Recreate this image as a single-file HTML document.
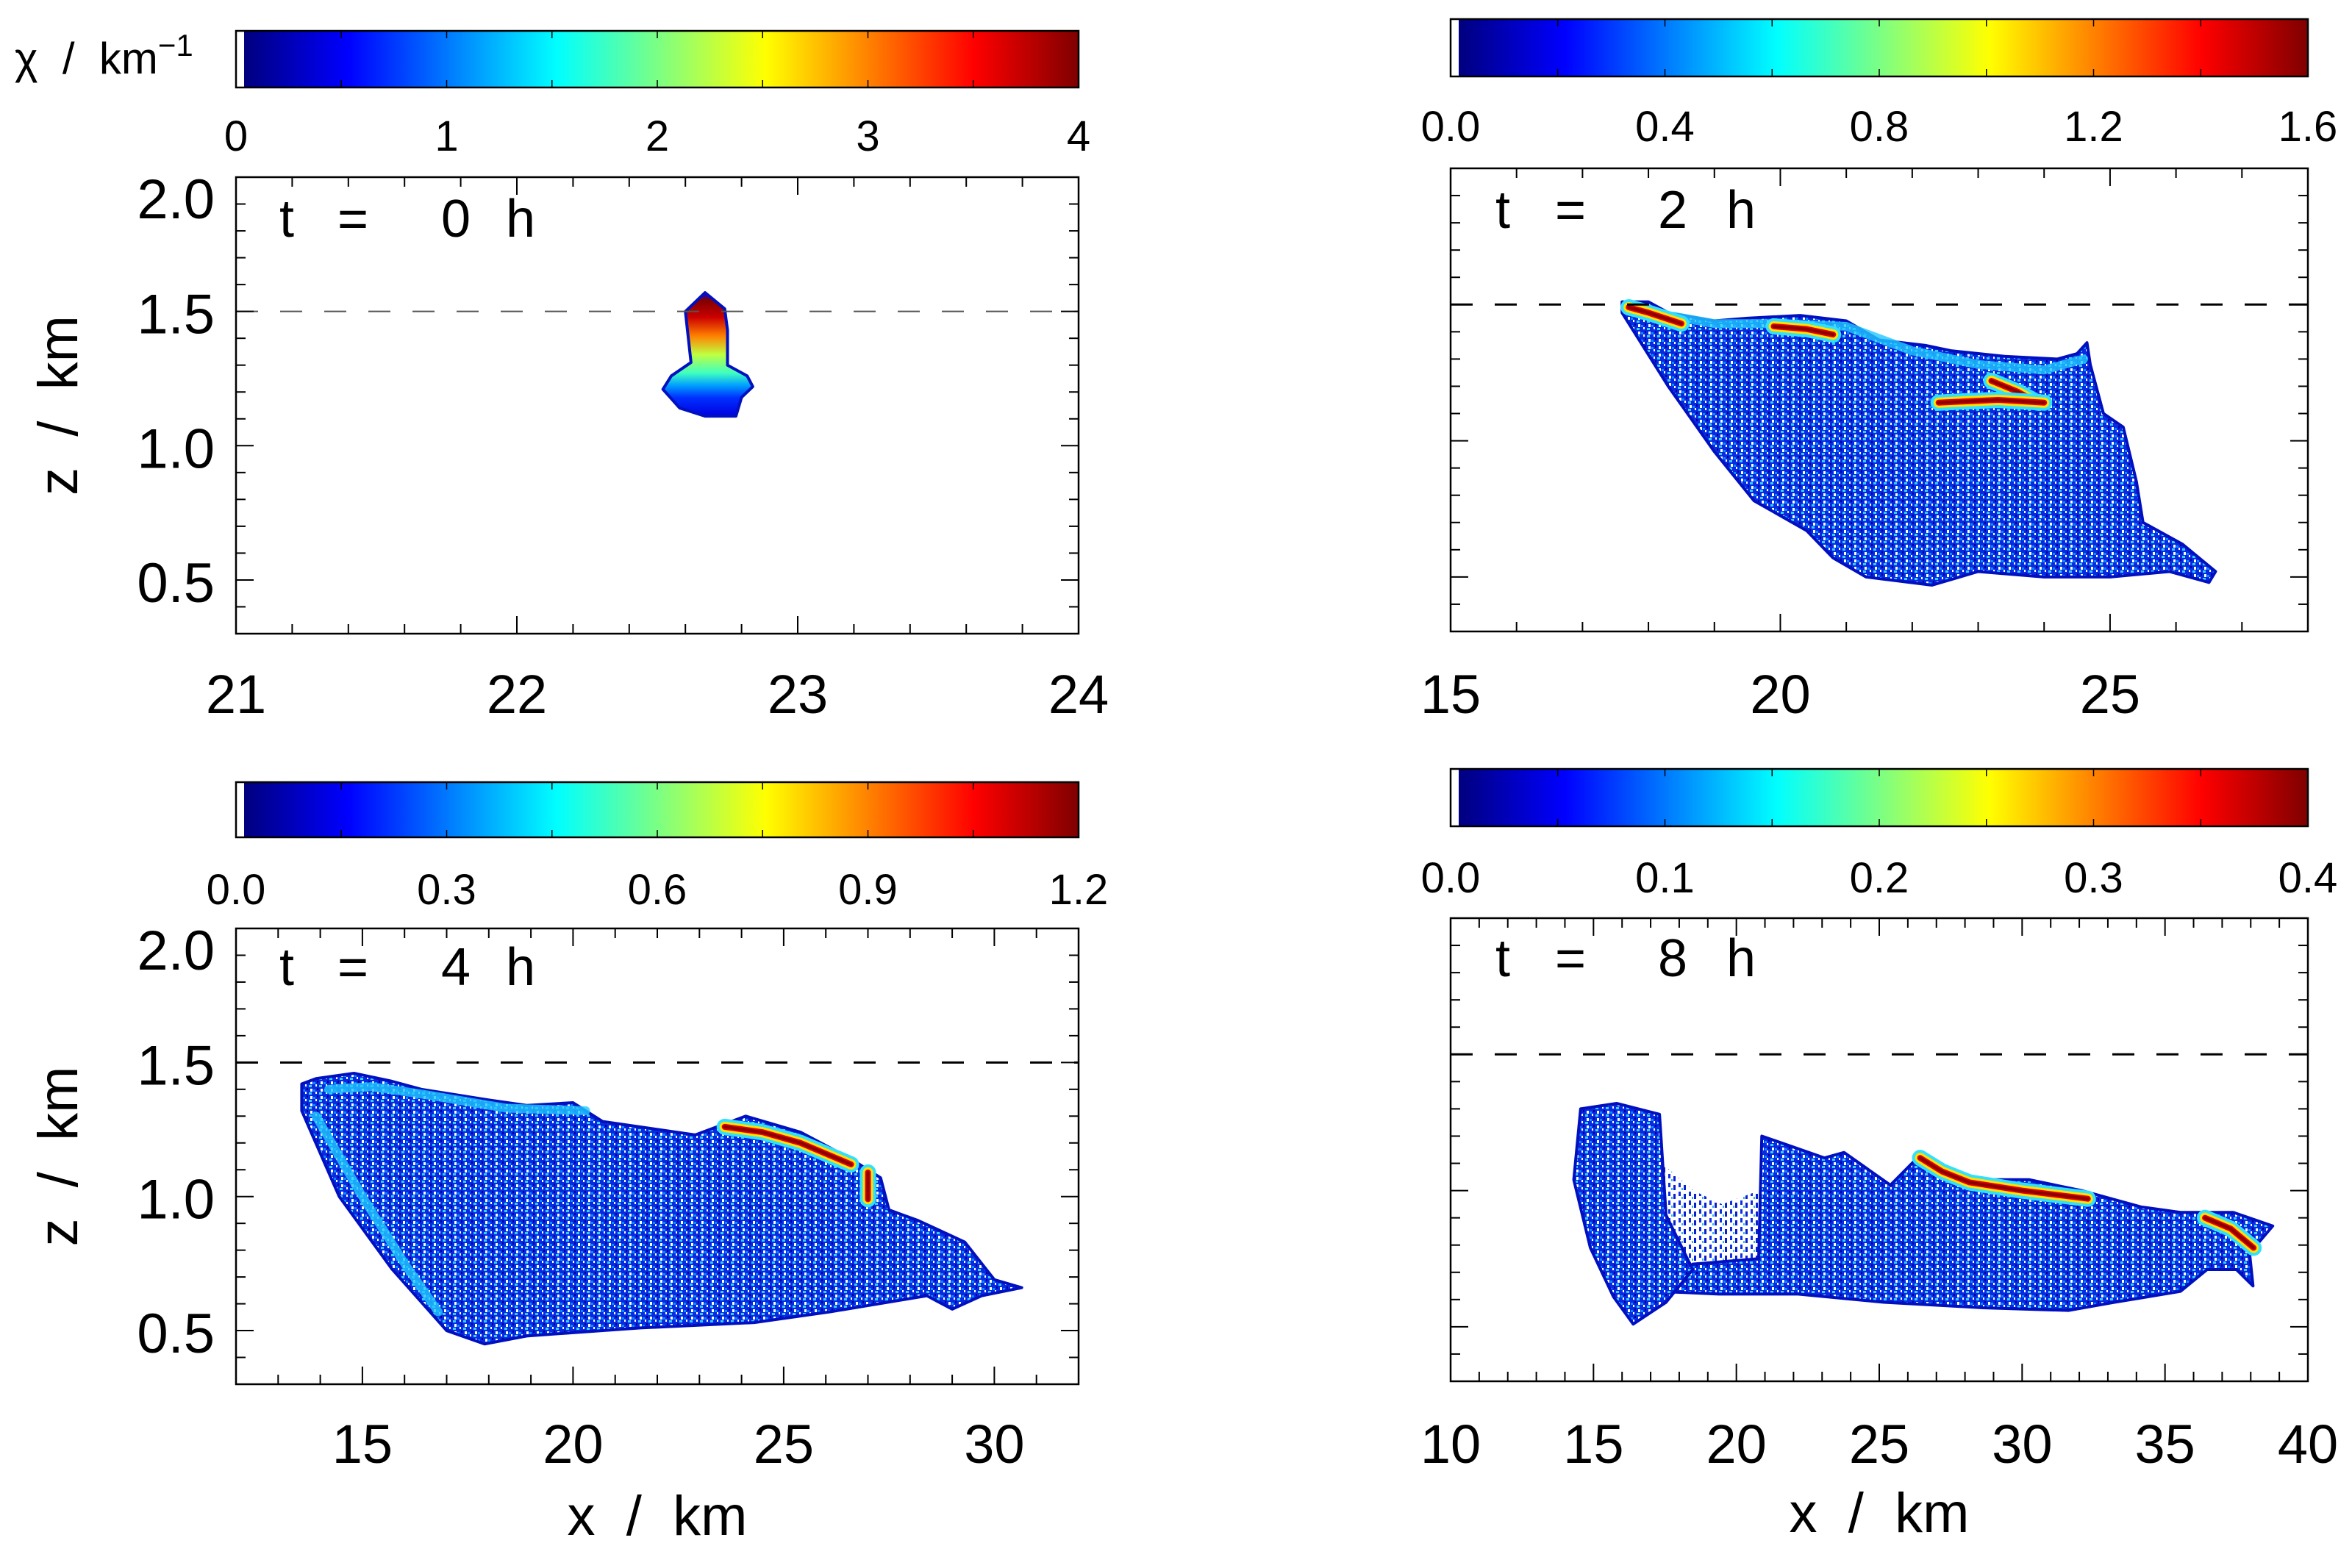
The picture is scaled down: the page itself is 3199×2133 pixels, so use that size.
<!DOCTYPE html>
<html><head><meta charset="utf-8">
<style>
html,body{margin:0;padding:0;background:#fff;}
svg{display:block;font-family:"Liberation Sans",sans-serif;}
</style></head>
<body>
<svg id="fig" width="3199" height="2133" viewBox="0 0 3199 2133" xmlns="http://www.w3.org/2000/svg">
<defs>
<linearGradient id="jet" x1="0" x2="1" y1="0" y2="0">
<stop offset="0" stop-color="#00007f"/><stop offset="0.125" stop-color="#0000ff"/>
<stop offset="0.375" stop-color="#00ffff"/><stop offset="0.625" stop-color="#ffff00"/>
<stop offset="0.875" stop-color="#ff0000"/><stop offset="1" stop-color="#7f0000"/>
</linearGradient>
<linearGradient id="plume" x1="0" x2="0" y1="0" y2="1">
<stop offset="0" stop-color="#0000ff"/><stop offset="0.06" stop-color="#7f0000"/>
<stop offset="0.2" stop-color="#cc0000"/><stop offset="0.35" stop-color="#ff8000"/>
<stop offset="0.5" stop-color="#c0ff40"/><stop offset="0.65" stop-color="#40ffc0"/>
<stop offset="0.75" stop-color="#00a0ff"/><stop offset="0.85" stop-color="#0030ff"/>
<stop offset="1" stop-color="#0000e0"/>
</linearGradient>
<pattern id="speck" width="14" height="10" patternUnits="userSpaceOnUse">
<rect width="14" height="10" fill="#0a2ae0"/>
<rect x="2" y="1" width="3" height="4" fill="#ffffff"/>
<rect x="9" y="5" width="2" height="3" fill="#ffffff"/>
<rect x="6" y="2" width="3" height="3" fill="#0090ff"/>
<rect x="11" y="0" width="2" height="3" fill="#0000a0"/>
<rect x="0" y="6" width="4" height="3" fill="#30d0ff"/>
</pattern>
<pattern id="sparse" width="14" height="12" patternUnits="userSpaceOnUse">
<rect width="14" height="12" fill="#ffffff"/>
<rect x="1" y="1" width="3" height="6" fill="#1030e8"/>
<rect x="8" y="4" width="3" height="7" fill="#0a20d0"/>
<rect x="5" y="8" width="2" height="3" fill="#30b0ff"/>
</pattern>
</defs>
<g id="root"></g>
</svg>
<script>
// ---- data (km units) ----
const p0OutlineX=[22.67,22.74,22.75,22.75,22.82,22.84,22.80,22.78,22.67,22.58,22.52,22.55,22.62,22.60];
const p0OutlineZ=[1.57,1.51,1.43,1.30,1.26,1.22,1.18,1.11,1.11,1.14,1.21,1.26,1.31,1.50];

const p2OutlineX=[17.6,18.0,18.3,19.0,19.5,20.3,21.0,21.5,22.2,22.6,23.4,24.2,24.5,24.65,24.7,24.9,25.2,25.4,25.5,26.1,26.6,26.5,25.9,25.0,24.0,23.0,22.3,21.3,20.8,20.4,19.6,19.0,18.3,17.6];
const p2OutlineZ=[1.51,1.51,1.47,1.44,1.45,1.46,1.44,1.37,1.35,1.33,1.31,1.30,1.32,1.36,1.28,1.10,1.05,0.85,0.70,0.62,0.52,0.48,0.52,0.50,0.50,0.52,0.47,0.50,0.57,0.67,0.78,0.96,1.20,1.47];
const p2StreakX=[[17.7,18.0,18.5],[19.9,20.4,20.8],[23.2,23.6,23.9],[22.4,23.3,24.0]];
const p2StreakZ=[[1.49,1.47,1.43],[1.42,1.41,1.39],[1.22,1.18,1.14],[1.14,1.15,1.14]];
const p2BandX=[18.3,19.0,20.0,21.0,22.0,23.0,24.0,24.6];
const p2BandZ=[1.46,1.43,1.43,1.42,1.33,1.28,1.26,1.30];

const p4OutlineX=[13.56,13.9,14.8,15.7,16.4,18.0,18.9,20.0,20.7,22.9,24.1,25.4,26.6,27.3,27.5,28.2,29.3,30.0,30.65,29.7,29.0,28.4,26.1,24.3,21.6,18.9,17.9,17.0,15.7,14.45,13.56];
const p4OutlineZ=[1.42,1.44,1.46,1.43,1.40,1.36,1.34,1.35,1.28,1.23,1.30,1.24,1.14,1.07,0.95,0.91,0.83,0.69,0.66,0.63,0.58,0.63,0.57,0.53,0.51,0.48,0.45,0.50,0.73,1.00,1.32];
const p4StreakX=[[23.6,24.5,25.4,26.6],[27.0,27.0]];
const p4StreakZ=[[1.26,1.24,1.20,1.12],[1.09,0.99]];
const p4BandX=[14.2,15.2,16.5,18.4,20.3];
const p4BandZ=[1.40,1.41,1.38,1.33,1.32];
const p4EdgeX=[13.9,15.0,16.0,16.8];
const p4EdgeZ=[1.30,1.0,0.75,0.57];

const p8MainX=[17.31,19.39,22.16,25.16,28.62,31.62,33.23,35.54,36.47,37.50,38.08,37.96,38.77,37.39,35.54,34.16,32.08,30.24,28.16,26.43,25.39,23.77,23.08,20.89,20.78,18.47];
const p8MainZ=[0.63,0.62,0.62,0.59,0.57,0.56,0.59,0.63,0.71,0.71,0.65,0.77,0.87,0.92,0.92,0.94,1.00,1.04,1.04,1.13,1.02,1.14,1.12,1.20,0.75,0.73];
const p8BlobX=[14.31,14.55,15.81,17.31,17.54,18.47,17.54,16.39,15.70,14.89];
const p8BlobZ=[1.04,1.30,1.32,1.28,0.91,0.71,0.59,0.51,0.61,0.79];
const p8GapX=[17.4,18.5,19.5,20.8,20.8,19.5,18.2,17.4];
const p8GapZ=[1.10,1.00,0.95,1.00,0.66,0.66,0.68,0.75];
const p8StreakX=[[26.43,27.2,28.16,30.0,32.3],[36.4,37.3,38.1]];
const p8StreakZ=[[1.12,1.07,1.03,1.00,0.97],[0.90,0.86,0.79]];

const cb0Labels=["0","1","2","3","4"];
const cb2Labels=["0.0","0.4","0.8","1.2","1.6"];
const cb4Labels=["0.0","0.3","0.6","0.9","1.2"];
const cb8Labels=["0.0","0.1","0.2","0.3","0.4"];
const yTickLabels=["0.5","1.0","1.5","2.0"];
const yTickValues=[0.5,1.0,1.5,2.0];
const xTicks0=[21,22,23,24];
const xTicks2=[15,20,25];
const xTicks4=[15,20,25,30];
const xTicks8=[10,15,20,25,30,35,40];

const NS="http://www.w3.org/2000/svg";
const root=document.getElementById('root');
function mk(tag,attrs,parent){const e=document.createElementNS(NS,tag);for(const k in attrs)e.setAttribute(k,attrs[k]);(parent||root).appendChild(e);return e;}

const panels=[
 {id:'t0',L:321,R:1467,T:241,B:862,x0:21,x1:24,minor:0.2,cbT:42,cbB:119,cbLab:cb0Labels,cbLabY:205,xt:xTicks0,xtY:970,ylab:true,tLabel:'0',tY:322,tX:[390,480,620,708],dashCol:'#555',dashW:2,
  outlines:[[p0OutlineX,p0OutlineZ,'url(#plume)']],streaks:[],bands:[],title:false},
 {id:'t2',L:1973,R:3139,T:229,B:859,x0:15,x1:28,minor:1,cbT:26,cbB:104,cbLab:cb2Labels,cbLabY:192,xt:xTicks2,xtY:970,ylab:false,tLabel:'2',tY:310,tX:[2044,2136,2275,2368],dashCol:'#000',dashW:3,
  outlines:[[p2OutlineX,p2OutlineZ,'url(#speck)']],streaks:[[p2StreakX,p2StreakZ]],bands:[[p2BandX,p2BandZ]],title:false},
 {id:'t4',L:321,R:1467,T:1263,B:1883,x0:12,x1:32,minor:1,cbT:1064,cbB:1139,cbLab:cb4Labels,cbLabY:1230,xt:xTicks4,xtY:1990,ylab:true,tLabel:'4',tY:1340,tX:[390,480,620,708],dashCol:'#000',dashW:3,
  outlines:[[p4OutlineX,p4OutlineZ,'url(#speck)']],streaks:[[p4StreakX,p4StreakZ]],bands:[[p4BandX,p4BandZ],[p4EdgeX,p4EdgeZ]],title:true},
 {id:'t8',L:1973,R:3139,T:1249,B:1879,x0:10,x1:40,minor:1,cbT:1046,cbB:1124,cbLab:cb8Labels,cbLabY:1214,xt:xTicks8,xtY:1990,ylab:false,tLabel:'8',tY:1328,tX:[2044,2136,2275,2368],dashCol:'#000',dashW:3,
  outlines:[[p8GapX,p8GapZ,'url(#sparse)'],[p8MainX,p8MainZ,'url(#speck)'],[p8BlobX,p8BlobZ,'url(#speck)']],streaks:[[p8StreakX,p8StreakZ]],bands:[],title:true}
];
const zMin=0.3,zMax=2.0;

panels.forEach(p=>{
  const g=mk('g',{});
  
  
  const sx=v=>p.L+(v-p.x0)/(p.x1-p.x0)*(p.R-p.L);
  const sz=v=>p.B-(v-zMin)/(zMax-zMin)*(p.B-p.T);
  const cb=mk('g',{},g);
  
  
  mk('rect',{x:p.L+11,y:p.cbT,width:p.R-p.L-11,height:p.cbB-p.cbT,fill:'url(#jet)'},cb);
  mk('rect',{x:p.L,y:p.cbT,width:p.R-p.L,height:p.cbB-p.cbT,fill:'none',stroke:'#000','stroke-width':2.5},cb);
  for(let i=1;i<8;i++){const x=p.L+i/8*(p.R-p.L);
    mk('line',{x1:x,x2:x,y1:p.cbT,y2:p.cbT+10,stroke:'#000','stroke-width':1.5},cb);
    mk('line',{x1:x,x2:x,y1:p.cbB,y2:p.cbB-10,stroke:'#000','stroke-width':1.5},cb);}
  p.cbLab.forEach((s,i)=>{const t=mk('text',{x:p.L+i/(p.cbLab.length-1)*(p.R-p.L),y:p.cbLabY,'font-size':58,'text-anchor':'middle'},cb);t.textContent=s;
    
    });
  const clip='clip-'+p.id;
  const cp=mk('clipPath',{id:clip},g);mk('rect',{x:p.L,y:p.T,width:p.R-p.L,height:p.B-p.T},cp);
  const dg=mk('g',{'clip-path':'url(#'+clip+')'},g);
  p.outlines.forEach(o=>{
    const pts=o[0].map((x,i)=>sx(x)+','+sz(o[1][i])).join(' ');
    const sparse=o[2]==='url(#sparse)';
    const poly=mk('polygon',{points:pts,fill:o[2],stroke:sparse?'none':'#0010c0','stroke-width':4,'stroke-linejoin':'round'},dg);
    
    
  });
  p.bands.forEach(b=>{
    const pts=b[0].map((x,i)=>sx(x)+','+sz(b[1][i])).join(' ');
    const pl=mk('polyline',{points:pts,fill:'none',stroke:'#20c8ff','stroke-width':12,'stroke-linecap':'round','stroke-linejoin':'round',opacity:0.8},dg);
    
    
  });
  p.streaks.forEach(s=>{
    s[0].forEach((xs,k)=>{
      const pts=xs.map((x,i)=>sx(x)+','+sz(s[1][k][i])).join(' ');
      [['#30e0ff',22],['#ffe000',14],['#e00000',8],['#8a0000',4]].forEach(st=>{
        const pl=mk('polyline',{points:pts,fill:'none',stroke:st[0],'stroke-width':st[1],'stroke-linecap':'round','stroke-linejoin':'round'},dg);
        
        
      });
    });
  });
  const dl=mk('line',{x1:p.L,x2:p.R,y1:sz(1.5),y2:sz(1.5),stroke:p.dashCol,'stroke-width':p.dashW,'stroke-dasharray':'30 30'},g);
  
  
  const fr=mk('rect',{x:p.L,y:p.T,width:p.R-p.L,height:p.B-p.T,fill:'none',stroke:'#000','stroke-width':2.5},g);
  
  
  const nX=Math.round((p.x1-p.x0)/p.minor);
  for(let i=1;i<nX;i++){const v=p.x0+i*p.minor;const x=sx(v);
    const major=p.xt.some(t=>Math.abs(t-v)<1e-6);const len=major?24:13;
    mk('line',{x1:x,x2:x,y1:p.B,y2:p.B-len,stroke:'#000','stroke-width':2},g);
    mk('line',{x1:x,x2:x,y1:p.T,y2:p.T+len,stroke:'#000','stroke-width':2},g);}
  p.xt.forEach(v=>{const t=mk('text',{x:sx(v),y:p.xtY,'font-size':74,'text-anchor':'middle'},g);t.textContent=v;
    
    });
  for(let i=1;i<17;i++){const v=zMin+i*0.1;const y=sz(v);
    const major=Math.abs(v*2-Math.round(v*2))<1e-6;const len=major?24:13;
    mk('line',{x1:p.L,x2:p.L+len,y1:y,y2:y,stroke:'#000','stroke-width':2},g);
    mk('line',{x1:p.R,x2:p.R-len,y1:y,y2:y,stroke:'#000','stroke-width':2},g);}
  if(p.ylab){yTickValues.forEach((v,i)=>{let y=sz(v)+30;if(v>=1.99)y=p.T+56;
    const t=mk('text',{x:292,y:y,'font-size':76,'text-anchor':'end'},g);t.textContent=yTickLabels[i];
    
    });
    const yt=mk('text',{x:0,y:0,'font-size':76,'text-anchor':'middle',transform:'translate(105,'+((p.T+p.B)/2)+') rotate(-90)'},g);
    yt.textContent='z\u00a0\u00a0/\u00a0\u00a0km';
    
    }
  if(p.title){const xt=mk('text',{x:(p.L+p.R)/2,y:p.B+205,'font-size':76,'text-anchor':'middle'},g);xt.textContent='x\u00a0\u00a0/\u00a0\u00a0km';
    
    }
  const tl=mk('g',{},g);
  
  
  ['t','=',p.tLabel,'h'].forEach((s,i)=>{const t=mk('text',{x:p.tX[i],y:p.tY,'font-size':72,'text-anchor':'middle'},tl);t.textContent=s;});
});
const ul=mk('text',{x:20,y:100,'font-size':60},root);


ul.innerHTML='χ\u00a0\u00a0/\u00a0\u00a0km<tspan dy="-24" font-size="42">−1</tspan>';
</script>
</body></html>
